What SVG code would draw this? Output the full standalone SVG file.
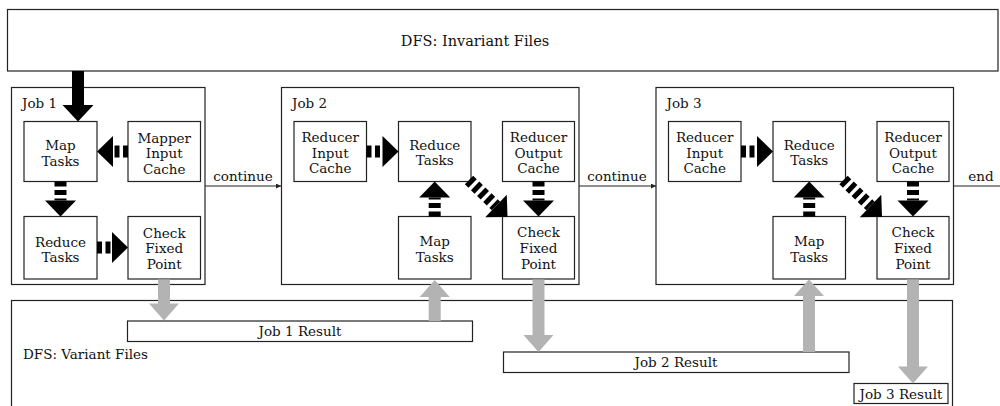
<svg xmlns="http://www.w3.org/2000/svg" width="1000" height="406" viewBox="0 0 1000 406">
<style>
.box{fill:#fff;stroke:#222;stroke-width:1.2}
.t{font-family:"DejaVu Serif","Liberation Serif",serif;font-size:13.5px;fill:#111}
.big{font-size:14.5px}
.c{text-anchor:middle}
.fat{fill:none;stroke:#000;stroke-width:12;stroke-dasharray:5 3.5}
.thin{fill:none;stroke:#222;stroke-width:1.1}
.gray{fill:#b3b3b3}
.blk{fill:#000}
</style>
<defs>
<marker id="head" markerUnits="userSpaceOnUse" markerWidth="18" markerHeight="32" refX="0" refY="15.5" orient="auto" overflow="visible">
<path d="M0,0 L16,15.5 L0,31 Z" fill="#000"/>
</marker>
<marker id="small" markerUnits="userSpaceOnUse" markerWidth="6" markerHeight="6" refX="5" refY="2.5" orient="auto">
<path d="M0,0 L5,2.5 L0,5 Z" fill="#222"/>
</marker>
</defs>

<g id="dfs-invariant">
<rect class="box" x="7.5" y="9.5" width="990.5" height="61.5"/>
<text class="t big c" x="475" y="46">DFS: Invariant Files</text>
</g>

<g id="dfs-variant">
<rect class="box" x="11.5" y="300.5" width="941" height="130"/>
<text class="t" x="23" y="359">DFS: Variant Files</text>
</g>

<g id="job1">
<rect class="box" x="11.5" y="87.5" width="193.5" height="197"/>
<text class="t" x="22" y="108">Job 1</text>
</g>
<g id="job1-map">
<rect class="box" x="24" y="121.5" width="73" height="60"/>
<text class="t c" x="60.5" y="150">Map</text><text class="t c" x="60.5" y="165.5">Tasks</text>
</g>
<g id="job1-mic">
<rect class="box" x="128" y="121.5" width="72.5" height="60"/>
<text class="t c" x="164.2" y="142.5">Mapper</text><text class="t c" x="164.2" y="158">Input</text><text class="t c" x="164.2" y="173.5">Cache</text>
</g>
<g id="job1-reduce">
<rect class="box" x="24" y="216.5" width="73" height="62.5"/>
<text class="t c" x="60.5" y="246.5">Reduce</text><text class="t c" x="60.5" y="262">Tasks</text>
</g>
<g id="job1-check">
<rect class="box" x="128" y="216.5" width="72.5" height="62.5"/>
<text class="t c" x="164.2" y="237.5">Check</text><text class="t c" x="164.2" y="253">Fixed</text><text class="t c" x="164.2" y="268.5">Point</text>
</g>

<g id="job2">
<rect class="box" x="281.5" y="87.5" width="297.5" height="197"/>
<text class="t" x="292" y="108">Job 2</text>
</g>
<g id="job2-ric">
<rect class="box" x="294" y="121.5" width="72.5" height="60"/>
<text class="t c" x="330.2" y="142">Reducer</text><text class="t c" x="330.2" y="157.5">Input</text><text class="t c" x="330.2" y="173">Cache</text>
</g>
<g id="job2-reduce">
<rect class="box" x="398.5" y="121.5" width="72.5" height="60"/>
<text class="t c" x="434.7" y="149.5">Reduce</text><text class="t c" x="434.7" y="165">Tasks</text>
</g>
<g id="job2-roc">
<rect class="box" x="502.5" y="121.5" width="72" height="60"/>
<text class="t c" x="538.5" y="142">Reducer</text><text class="t c" x="538.5" y="157.5">Output</text><text class="t c" x="538.5" y="173">Cache</text>
</g>
<g id="job2-map">
<rect class="box" x="398.5" y="216.5" width="72.5" height="62.5"/>
<text class="t c" x="434.7" y="246">Map</text><text class="t c" x="434.7" y="261.5">Tasks</text>
</g>
<g id="job2-check">
<rect class="box" x="502.5" y="216.5" width="72" height="62.5"/>
<text class="t c" x="538.5" y="237">Check</text><text class="t c" x="538.5" y="253">Fixed</text><text class="t c" x="538.5" y="268.5">Point</text>
</g>

<g id="job3">
<rect class="box" x="656" y="87.5" width="297.5" height="197"/>
<text class="t" x="666.5" y="108">Job 3</text>
</g>
<g id="job3-ric">
<rect class="box" x="668.5" y="121.5" width="72.5" height="60"/>
<text class="t c" x="704.7" y="142">Reducer</text><text class="t c" x="704.7" y="157.5">Input</text><text class="t c" x="704.7" y="173">Cache</text>
</g>
<g id="job3-reduce">
<rect class="box" x="773" y="121.5" width="72.5" height="60"/>
<text class="t c" x="809.2" y="149.5">Reduce</text><text class="t c" x="809.2" y="165">Tasks</text>
</g>
<g id="job3-roc">
<rect class="box" x="877" y="121.5" width="72" height="60"/>
<text class="t c" x="913" y="142">Reducer</text><text class="t c" x="913" y="157.5">Output</text><text class="t c" x="913" y="173">Cache</text>
</g>
<g id="job3-map">
<rect class="box" x="773" y="216.5" width="72.5" height="62.5"/>
<text class="t c" x="809.2" y="246">Map</text><text class="t c" x="809.2" y="261.5">Tasks</text>
</g>
<g id="job3-check">
<rect class="box" x="877" y="216.5" width="72" height="62.5"/>
<text class="t c" x="913" y="237">Check</text><text class="t c" x="913" y="253">Fixed</text><text class="t c" x="913" y="268.5">Point</text>
</g>

<g id="job1-result">
<rect class="box" x="127.5" y="321" width="345" height="20.5"/>
<text class="t c" x="300" y="336">Job 1 Result</text>
</g>
<g id="job2-result">
<rect class="box" x="503.5" y="352" width="345.5" height="20.5"/>
<text class="t c" x="676" y="367">Job 2 Result</text>
</g>
<g id="job3-result">
<rect class="box" x="854" y="383.5" width="94" height="20"/>
<text class="t c" x="901" y="398.5">Job 3 Result</text>
</g>

<g id="connectors">
<polygon class="blk" points="72,71 84,71 84,105 93.5,105 78,121.5 62.5,105 72,105"/>
<path class="fat" d="M128,151.5 L113,151.5" marker-end="url(#head)"/>
<path class="fat" d="M60.5,181.5 L60.5,200.5" marker-end="url(#head)"/>
<path class="fat" d="M97,247.5 L112,247.5" marker-end="url(#head)"/>
<path class="fat" d="M366.5,151.5 L382.5,151.5" marker-end="url(#head)"/>
<path class="fat" d="M434.7,216.5 L434.7,197.5" marker-end="url(#head)"/>
<path class="fat" d="M469,180 L496,206" marker-end="url(#head)"/>
<path class="fat" d="M538.5,181.5 L538.5,200.5" marker-end="url(#head)"/>
<path class="fat" d="M741,151.5 L757,151.5" marker-end="url(#head)"/>
<path class="fat" d="M809.2,216.5 L809.2,197.5" marker-end="url(#head)"/>
<path class="fat" d="M843.5,180 L870.5,206" marker-end="url(#head)"/>
<path class="fat" d="M913,181.5 L913,200.5" marker-end="url(#head)"/>
<path class="thin" d="M205,186 L281,186" marker-end="url(#small)"/>
<text class="t c" x="243" y="181">continue</text>
<path class="thin" d="M579,186 L656,186" marker-end="url(#small)"/>
<text class="t c" x="617" y="181">continue</text>
<path class="thin" d="M953.5,186 L1000,186"/>
<text class="t c" x="981" y="181">end</text>
<polygon class="gray" points="158,279.5 170,279.5 170,303.5 179,303.5 164,320.5 149,303.5 158,303.5"/>
<polygon class="gray" points="428.7,321 440.7,321 440.7,297 449.7,297 434.7,280 419.7,297 428.7,297"/>
<polygon class="gray" points="532.5,279.5 544.5,279.5 544.5,335 553.5,335 538.5,352 523.5,335 532.5,335"/>
<polygon class="gray" points="803,352 815,352 815,296 824,296 809,279.5 794,296 803,296"/>
<polygon class="gray" points="907,279.5 919,279.5 919,366.5 928,366.5 913,383.5 898,366.5 907,366.5"/>
</g>
</svg>
